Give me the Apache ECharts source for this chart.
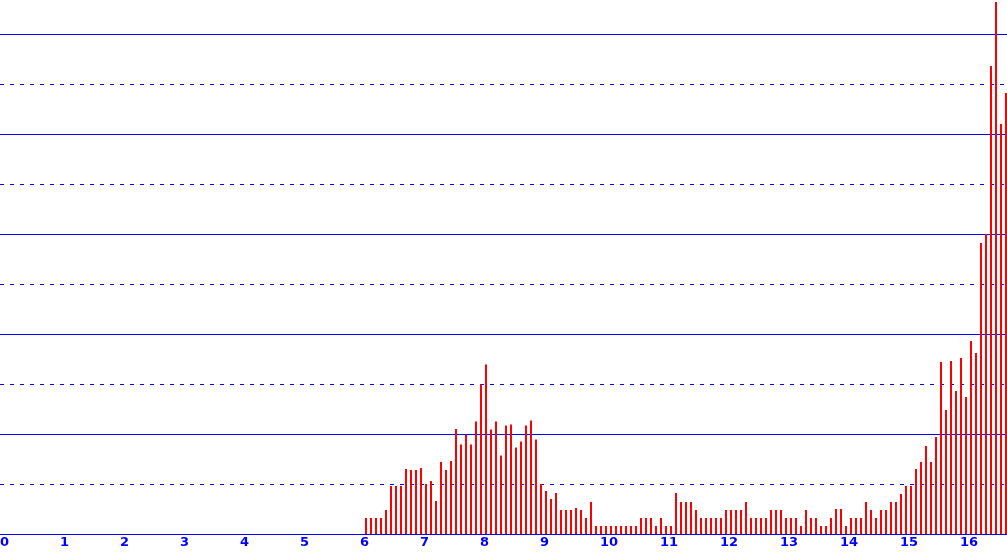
<!DOCTYPE html>
<html>
<head>
<meta charset="utf-8">
<script src="https://cdn.jsdelivr.net/npm/echarts@6/dist/echarts.min.js"></script>
<style>
html,body{margin:0;padding:0;background:#fff;}
#chart{width:1007px;height:554px;}
</style>
</head>
<body>
<div id="chart"></div>
<script>
// Histogram bins: first bin at x = 6, 12 bins per unit
const binStart = 6;
const binsPerUnit = 12;
const counts = [
  0.32, 0.32, 0.32, 0.32, 0.48, 0.96, 0.96, 0.96, 1.30, 1.28, 1.28, 1.32,
  1.00, 1.06, 0.66, 1.44, 1.28, 1.46, 2.10, 1.79, 1.99, 1.79, 2.25, 2.99,
  3.39, 2.09, 2.25, 1.57, 2.17, 2.19, 1.73, 1.85, 2.17, 2.27, 1.89, 1.00,
  0.86, 0.70, 0.82, 0.48, 0.48, 0.48, 0.52, 0.48, 0.32, 0.64, 0.16, 0.16,
  0.16, 0.16, 0.16, 0.16, 0.16, 0.16, 0.16, 0.32, 0.32, 0.32, 0.16, 0.32,
  0.16, 0.16, 0.82, 0.64, 0.64, 0.64, 0.48, 0.32, 0.32, 0.32, 0.32, 0.32,
  0.48, 0.48, 0.48, 0.48, 0.64, 0.32, 0.32, 0.32, 0.32, 0.48, 0.48, 0.48,
  0.32, 0.32, 0.32, 0.16, 0.48, 0.32, 0.32, 0.16, 0.16, 0.32, 0.50, 0.50,
  0.16, 0.32, 0.32, 0.32, 0.64, 0.48, 0.32, 0.48, 0.48, 0.64, 0.64, 0.80,
  0.96, 0.96, 1.30, 1.44, 1.76, 1.44, 1.94, 3.44, 2.48, 3.46, 2.86, 3.52,
  2.74, 3.86, 3.62, 5.82, 6.00, 9.36, 10.64, 8.20, 8.82
];
const xTickLabels = ['0','1','2','3','4','5','6','7','8','9','10','11','12','13','14','15','16'];

const blue = '#0000ff';
const data = counts.map((v, i) => [binStart + i / binsPerUnit, v]);

const chart = echarts.init(document.getElementById('chart'), null, {renderer: 'canvas'});
chart.setOption({
  animation: false,
  backgroundColor: '#ffffff',
  grid: {left: 0, right: 0, top: 0, bottom: 20, containLabel: false, outerBoundsMode: 'none'},
  xAxis: [
    {
      type: 'value', min: -0.1, max: -0.1 + 1007 / 60,
      axisLine: {show: true, lineStyle: {color: blue, width: 1}},
      axisTick: {show: false}, axisLabel: {show: false}, splitLine: {show: false}
    },
    {
      type: 'value', position: 'bottom', min: 0, max: 1007 / 60, interval: 1,
      axisLine: {show: false}, axisTick: {show: false}, splitLine: {show: false},
      axisLabel: {
        show: true, color: blue, fontFamily: 'DejaVu Sans', fontWeight: 'bold', fontSize: 13,
        align: 'left', margin: 2, showMaxLabel: false, showMinLabel: true, hideOverlap: false,
        formatter: (v) => { const i = Math.round(v); return (Math.abs(v - i) < 1e-6 && xTickLabels[i] !== undefined) ? xTickLabels[i] : ''; }
      }
    }
  ],
  yAxis: [
    {
      type: 'value', min: 0, max: 534 / 50, interval: 1,
      axisLine: {show: false}, axisTick: {show: false}, axisLabel: {show: false},
      splitLine: {show: true, showMaxLine: false, lineStyle: {color: blue, width: 1, type: [4, 6]}}
    },
    {
      type: 'value', min: 0, max: 534 / 50, interval: 2,
      axisLine: {show: false}, axisTick: {show: false}, axisLabel: {show: false},
      splitLine: {show: true, showMaxLine: false, lineStyle: {color: blue, width: 1, type: 'solid'}}
    }
  ],
  series: [{
    type: 'bar', xAxisIndex: 0, yAxisIndex: 0,
    data: data, barWidth: 2,
    itemStyle: {color: '#ff0000'},
    silent: true
  }]
});
</script>
</body>
</html>
